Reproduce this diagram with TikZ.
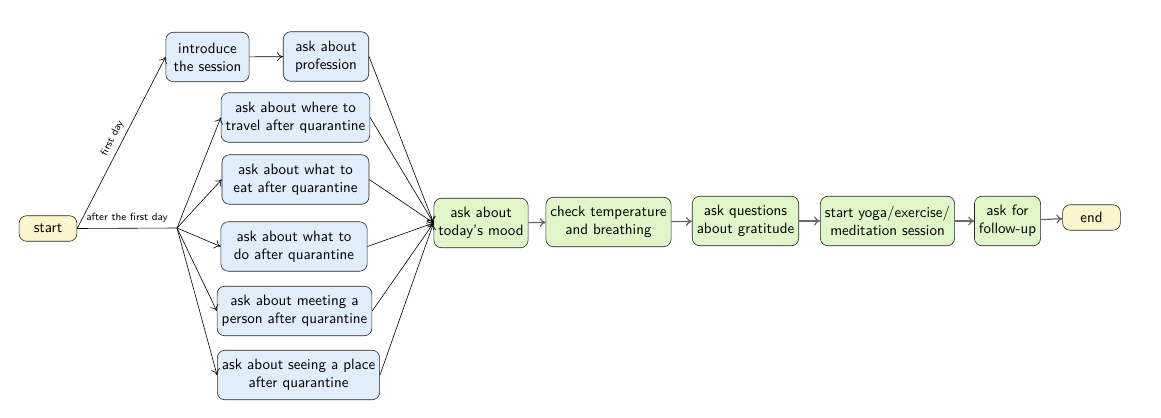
\documentclass[tikz,border=0pt]{standalone}
\usetikzlibrary{arrows.meta}

\definecolor{termfill}{RGB}{250,245,205}
\definecolor{askfill}{RGB}{224,237,250}
\definecolor{stepfill}{RGB}{224,245,200}

\begin{document}
\begin{tikzpicture}[
  x=0.6667pt, y=-0.6667pt,
  font=\sffamily,
  box/.style={rectangle, rounded corners=5pt, draw=black!85, align=center, inner sep=3pt, minimum height=33pt},
  termbox/.style={box, fill=termfill, minimum width=38.5pt, minimum height=17pt},
  askbox/.style={box, fill=askfill},
  stepbox/.style={box, fill=stepfill},
  flow/.style={->, >={To[length=4pt,width=6pt]}},
  chain/.style={flow, thick, draw=black!60}
]
  \useasboundingbox (0,0) rectangle (1161,418);

  % Inicio y bifurcacion
  \node[termbox] (start) at (48,228.5) {start};
  \coordinate (split) at (177,228);

  % Primer dia
  \node[askbox, minimum width=55.5pt] (intro) at (207.5,57) {introduce\\the session};
  \node[askbox, minimum width=57pt] (prof) at (326,56.5) {ask about\\profession};

  % Despues del primer dia
  \node[askbox, minimum width=98pt] (travel) at (295.5,117.5) {ask about where to\\travel after quarantine};
  \node[askbox, minimum width=98pt] (eat) at (295.5,179.5) {ask about what to\\eat after quarantine};
  \node[askbox, minimum width=97.5pt] (do) at (294,246.5) {ask about what to\\do after quarantine};
  \node[askbox, minimum width=99pt] (meet) at (294.5,311) {ask about meeting a\\person after quarantine};
  \node[askbox] (place) at (298.5,375) {ask about seeing a place\\after quarantine};

  % Sesion comun
  \node[stepbox] (mood) at (481,223) {ask about\\today's mood};
  \node[stepbox] (temp) at (608.5,222) {check temperature\\and breathing};
  \node[stepbox] (grat) at (745.5,221) {ask questions\\about gratitude};
  \node[stepbox] (yoga) at (887.5,221) {start yoga/exercise/\\meditation session};
  \node[stepbox] (follow) at (1007.5,221) {ask for\\follow-up};
  \node[termbox] (end) at (1091.5,217.5) {end};

  % Aristas desde el inicio
  \draw[flow] (start.east) -- node[pos=0.5, above, sloped, font=\sffamily\scriptsize] {first day} (intro.west);
  \draw (start.east) -- node[above, font=\sffamily\scriptsize] {after the first day} (split);
  \foreach \n in {travel,eat,do,meet,place}
    \draw[flow] (split) -- (\n.west);

  \draw[flow] (intro) -- (prof);

  % Aristas hacia el estado de animo
  \foreach \n in {prof,travel,eat,do,meet,place}
    \draw[flow] (\n.east) -- (mood.west);

  % Cadena final
  \draw[chain] (mood) -- (temp);
  \draw[chain] (temp) -- (grat);
  \draw[chain] (grat) -- (yoga);
  \draw[chain] (yoga) -- (follow);
  \draw[chain] (follow) -- (end);

\end{tikzpicture}
\end{document}
